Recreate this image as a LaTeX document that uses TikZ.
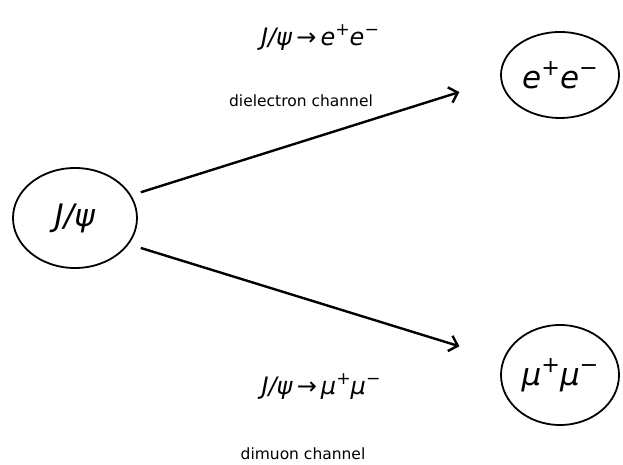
\documentclass[tikz,border=0pt]{standalone}
\usepackage{fontspec}
\setmainfont{DejaVu Sans}
\usepackage{tikz}
\usetikzlibrary{arrows.meta,shapes.geometric}
\newcommand{\charge}[1]{\raisebox{0.42em}{\scalebox{0.72}{#1}}}

\begin{document}
\begin{tikzpicture}[x=1pt, y=-1pt,
    particle/.style={draw, ellipse, line width=1.8pt, inner sep=0pt, font=\fontsize{31}{34}\selectfont},
    decay/.style={font=\fontsize{24}{28}\selectfont},
    chan/.style={font=\fontsize{15.5}{18}\selectfont},
    arr/.style={-{Straight Barb[length=8pt,width=16pt]}, line width=2.4pt}
]
\useasboundingbox (0,0) rectangle (623,465);
\node[particle, minimum width=124pt, minimum height=100pt] (jpsi) at (75,218) {\textit{J/ψ}};
\node[particle, minimum width=118pt, minimum height=86pt] (ee) at (560,75) {\textit{e}\charge{+}\textit{e}\charge{−}};
\node[particle, minimum width=118pt, minimum height=100pt] (mumu) at (560,375) {\textit{μ}\charge{+}\textit{μ}\charge{−}};

\node[decay] (eedecay) at (320,38) {\textit{J/ψ}\,→\,\textit{e}\charge{+}\textit{e}\charge{−}};
\node[chan] (eechan) at (301,101) {dielectron channel};
\node[decay] (mmdecay) at (321,387) {\textit{J/ψ}\,→\,\textit{μ}\charge{+}\textit{μ}\charge{−}};
\node[chan] (mmchan) at (303,454) {dimuon channel};

\draw[arr, shorten <=10pt, shorten >=43pt] (jpsi.22) -- (ee.184);
\draw[arr, shorten <=12.5pt, shorten >=45.5pt] (jpsi.-26) -- (mumu.165.5);
\end{tikzpicture}
\end{document}
